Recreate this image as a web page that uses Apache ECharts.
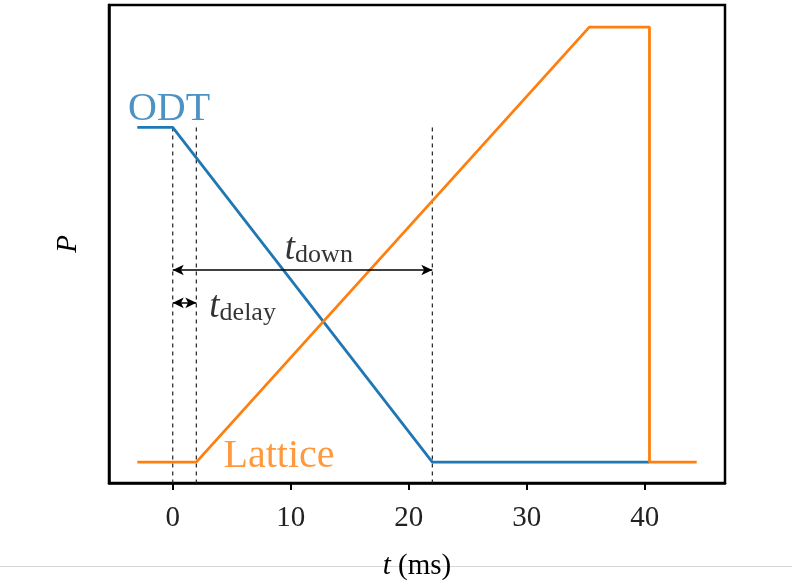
<!DOCTYPE html>
<html><head><meta charset="utf-8">
<script src="https://cdn.jsdelivr.net/npm/echarts@6/dist/echarts.min.js"></script>
<style>html,body{margin:0;padding:0;background:#fff}#c{width:792px;height:586px}</style>
</head><body><div id="c"></div>
<script>
// Data
const odtT = [-3, 0, 22, 40.4];
const odtP = [1, 1, 0, 0];
const latT = [-3, 2, 35.3, 40.4, 40.4, 44.4];
const latP = [0, 0, 1.3, 1.3, 0, 0];
const dashT = [0, 2, 22];
const dashTop = 1;
const xTicks = [0, 10, 20, 30, 40];
const downArrow = {from: 0, to: 22, p: 0.574};
const delayArrow = {from: 0, to: 2, p: 0.476};

const serif = '"Liberation Serif", "DejaVu Serif", serif';
const blue = '#1f77b4', orange = '#ff7f0e';
const zip = (a, b) => a.map((v, i) => [v, b[i]]);

const chart = echarts.init(document.getElementById('c'), null, {renderer: 'canvas'});
const dashSeries = dashT.map(t => ({
  type: 'line', data: [[t, dashTop], [t, -0.2]], symbol: 'none', silent: true,
  lineStyle: {color: '#222', width: 1.2, type: [4, 4]}, z: 1
}));
const arrowLine = (a) => ({
  type: 'line', data: [], symbol: 'none', silent: true,
  markLine: {
    silent: true, symbol: ['arrow', 'arrow'], symbolSize: [8, 11],
    label: {show: false},
    lineStyle: {color: '#000', width: 1.5, type: 'solid'},
    data: [[{coord: [a.from, a.p]}, {coord: [a.to, a.p]}]]
  }
});
const textPoint = (coord, rich, text, color, size) => ({
  type: 'scatter', data: [coord], symbolSize: 0, silent: true,
  label: {show: true, position: 'inside', formatter: text, align: 'left',
    verticalAlign: 'bottom', color: color, fontFamily: serif, fontSize: size, rich: rich}
});
const richT = {
  t: {fontFamily: serif, fontStyle: 'italic', fontSize: 37, color: '#000'},
  s: {fontFamily: serif, fontSize: 26, color: '#000', padding: [12, 0, 0, 0]}
};

chart.setOption({
  animation: false,
  grid: {left: 109, right: 67, top: 5, bottom: 101, show: true, borderColor: '#000', borderWidth: 2.5, backgroundColor: 'transparent'},
  xAxis: {
    type: 'value', min: -5.4, max: 46.8,
    splitLine: {show: false},
    axisLine: {show: true, onZero: false, lineStyle: {color: '#000', width: 2.5}},
    axisTick: {show: true, inside: false, customValues: xTicks, length: 7, lineStyle: {color: '#000', width: 2}},
    axisLabel: {customValues: xTicks, margin: 21, color: '#222', fontFamily: serif, fontSize: 29},
    name: '{i|t} (ms)', nameLocation: 'middle', nameGap: 69,
    nameTextStyle: {fontFamily: serif, fontSize: 29, color: '#000',
      rich: {i: {fontFamily: serif, fontStyle: 'italic', fontSize: 29, color: '#000'}}}
  },
  yAxis: {
    type: 'value', min: -0.0625, max: 1.366,
    splitLine: {show: false}, axisTick: {show: false}, axisLabel: {show: false},
    axisLine: {show: true, onZero: false, lineStyle: {color: '#000', width: 2.5}},
    name: 'P', nameLocation: 'middle', nameGap: 26, nameRotate: 90,
    nameTextStyle: {fontFamily: serif, fontStyle: 'italic', fontSize: 29, color: '#000'}
  },
  graphic: [{type: 'line', shape: {x1: 0, y1: 566.5, x2: 792, y2: 566.5}, style: {stroke: '#d6d6d6', lineWidth: 1}, z: -1}],
  series: [
    ...dashSeries,
    {type: 'line', data: zip(odtT, odtP), symbol: 'none', lineStyle: {color: blue, width: 2.8}, z: 3},
    {type: 'line', data: zip(latT, latP), symbol: 'none', lineStyle: {color: orange, width: 2.8}, z: 4},
    arrowLine(downArrow),
    arrowLine(delayArrow),
    textPoint([-3.8, 0.995], {}, 'ODT', blue, 40),
    textPoint([4.3, -0.042], {}, 'Lattice', orange, 40),
    textPoint([9.5, 0.58], richT, '{t|t}{s|down}', '#000', 37),
    textPoint([3.1, 0.405], richT, '{t|t}{s|delay}', '#000', 37)
  ]
});
</script></body></html>
